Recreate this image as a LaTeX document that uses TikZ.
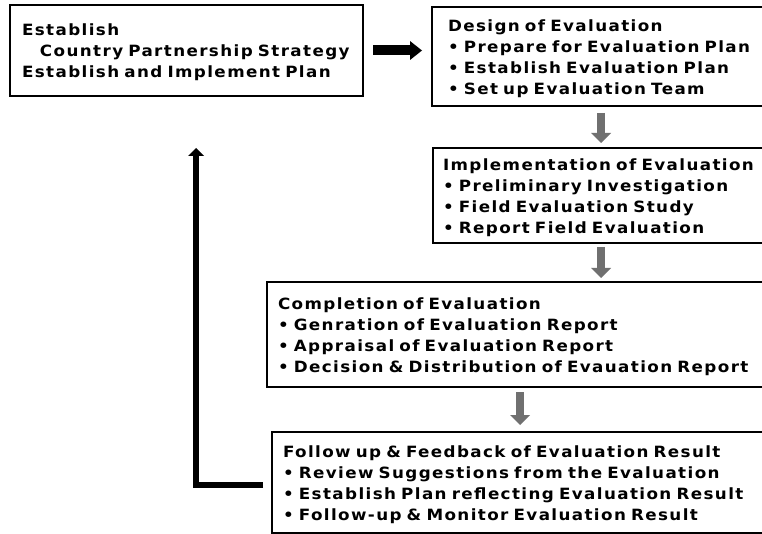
\documentclass[tikz,border=0pt]{standalone}
\usepackage{fontspec}
\usetikzlibrary{arrows.meta}
\newfontfamily\boxfont[LetterSpace=9,FakeStretch=1.08]{DejaVu Sans Bold}
\definecolor{arrowgray}{RGB}{112,112,112}
\newcommand\tstrut{\rule{0pt}{16pt}}
\begin{document}
\begin{tikzpicture}[x=1pt,y=-1pt,
  box/.style={anchor=north west, align=left,
    inner ysep=0pt, outer sep=0pt,
    font=\boxfont\fontsize{15.5}{21}\selectfont},
  boxline/.style={draw=black, line width=2.4pt, line join=miter},
  blackarrow/.style={draw=black, line width=10pt,
    -{Triangle[length=12pt,width=19pt,line width=0pt]}},
  grayarrow/.style={draw=arrowgray, line width=8pt,
    -{Triangle[length=10pt,width=20pt,line width=0pt]}},
  fbarrow/.style={draw=black, line width=6pt, line join=miter,
    -{Triangle[length=8pt,width=16pt,line width=0pt]}}]
\useasboundingbox (0,0) rectangle (762,534);
\clip (0,0) rectangle (762,534);
\fill[white] (0,0) rectangle (762,534);

\node[box, boxline, inner xsep=12pt, text width=329pt, minimum height=91pt] (B1) at (10,5)
  {\tstrut Establish\\\hspace*{18pt}Country Partnership Strategy\\Establish and Implement Plan};
\node[box, inner xsep=16pt, text width=336pt, minimum height=99pt] (B2) at (432,7)
  {\tstrut Design of Evaluation\\• Prepare for Evaluation Plan\\• Establish Evaluation Plan\\• Set up Evaluation Team};
\node[box, inner xsep=10pt, text width=347pt, minimum height=95pt] (B3) at (433,148)
  {\tstrut Implementation of Evaluation\\• Preliminary Investigation\\• Field Evaluation Study\\• Report Field Evaluation};
\node[box, inner xsep=11pt, text width=511pt, minimum height=105pt] (B4) at (267,282)
  {\tstrut Completion of Evaluation\\• Genration of Evaluation Report\\• Appraisal of Evaluation Report\\• Decision \& Distribution of Evauation Report};
\node[box, inner xsep=11pt, text width=506pt, minimum height=101pt] (B5) at (272,432)
  {\tstrut Follow up \& Feedback of Evaluation Result\\• Review Suggestions from the Evaluation\\• Establish Plan reflecting Evaluation Result\\• Follow-up \& Monitor Evaluation Result};

% boxes run off the right edge of the picture: draw top, left and bottom sides
\foreach \b in {B2,B3,B4,B5}
  \draw[boxline] (\b.north east) -- (\b.north west) -- (\b.south west) -- (\b.south east);

\coordinate (g1) at (601,0);
\coordinate (g3) at (520,0);
\coordinate (fb) at (196,148);

\draw[blackarrow, shorten <=10pt, shorten >=10pt] (B1.east) -- (B1.east -| B2.west);
\draw[grayarrow, shorten <=7pt, shorten >=5pt] (B2.south -| g1) -- (B3.north -| g1);
\draw[grayarrow, shorten <=4pt, shorten >=4pt] (B3.south -| g1) -- (B4.north -| g1);
\draw[grayarrow, shorten <=5pt, shorten >=7pt] (B4.south -| g3) -- (B5.north -| g3);
\draw[fbarrow] ([xshift=-9pt,yshift=-2.5pt]B5.west) -| (fb);
\end{tikzpicture}
\end{document}
